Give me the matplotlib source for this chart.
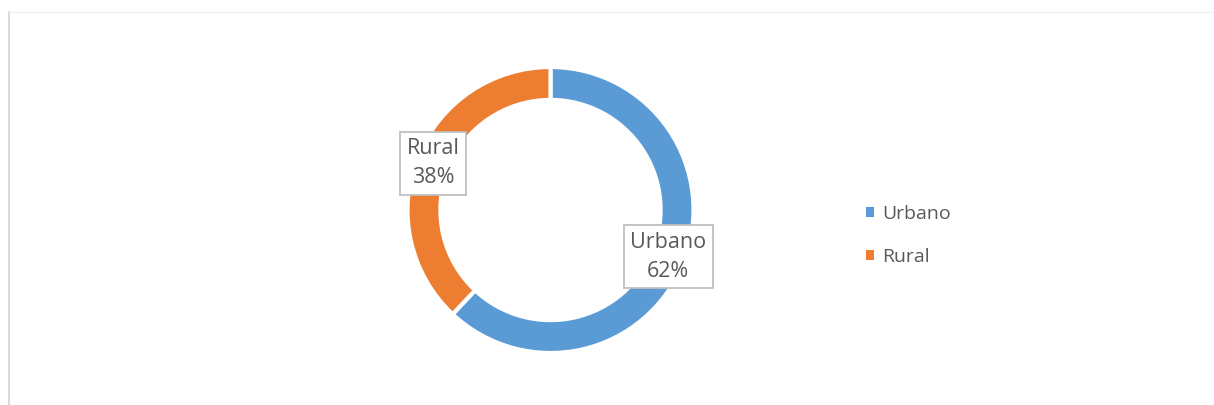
import matplotlib
matplotlib.use("Agg")
import matplotlib.pyplot as plt
from matplotlib.lines import Line2D
from matplotlib.patches import Patch
import numpy as np

categories = ["Urbano", "Rural"]
values = [62, 38]
colors = ["#5B9BD5", "#ED7D31"]

W, H = 1214, 405
fig = plt.figure(figsize=(W / 100, H / 100), dpi=100)
plt.rcParams['font.family'] = ['Open Sans', 'DejaVu Sans']

# frame lines
fig.add_artist(Line2D([9 / W, 9 / W], [0, 1 - 12 / H], transform=fig.transFigure,
                      color="#d9d9d9", lw=1.5))
fig.add_artist(Line2D([9 / W, 1], [1 - 12 / H, 1 - 12 / H], transform=fig.transFigure,
                      color="#f2f2f2", lw=1))

cx, cy, R = 550.5, 210, 143
ax = fig.add_axes([(cx - R) / W, (H - cy - R) / H, 2 * R / W, 2 * R / H])
wedges, _ = ax.pie(values, colors=colors, startangle=90, counterclock=False,
                   radius=1, wedgeprops=dict(width=0.23, edgecolor="white", linewidth=3))
ax.set_xlim(-1, 1)
ax.set_ylim(-1, 1)
ax.set_aspect("equal")
ax.axis("off")

total = sum(values)
for w, cat, v in zip(wedges, categories, values):
    mid = np.deg2rad((w.theta1 + w.theta2) / 2)
    r = 0.885
    ax.text(r * np.cos(mid), r * np.sin(mid), f"{cat}\n{round(100 * v / total)}%",
            ha="center", va="center", fontsize=15.5, color="#595959", linespacing=1.5,
            bbox=dict(boxstyle="square,pad=0.3", fc="white", ec="#bfbfbf", lw=1.3),
            zorder=5)

handles = [Patch(facecolor=c, edgecolor="none") for c in colors]
fig.legend(handles, categories, loc="center left",
           bbox_to_anchor=(848 / W, 1 - 235.5 / H), frameon=False,
           fontsize=14, labelcolor="#595959", handlelength=0.45, handleheight=0.45,
           handletextpad=0.4, labelspacing=1.3)

fig.savefig("out.png", dpi=100, facecolor="white")
